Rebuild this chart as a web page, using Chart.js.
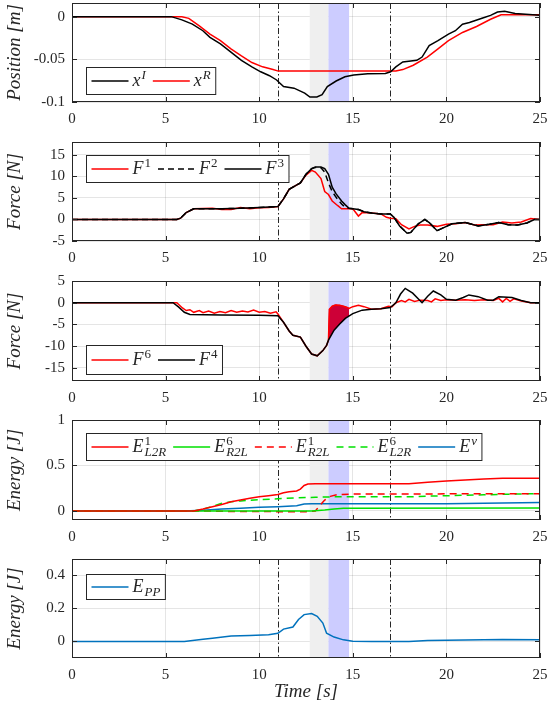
<!DOCTYPE html>
<html>
<head>
<meta charset="utf-8">
<script src="https://cdn.jsdelivr.net/npm/chart.js@4.4.1/dist/chart.umd.min.js"></script>
<style>
  body { margin: 0; background: #fff; width: 548px; height: 711px; position: relative; overflow: hidden; }
  canvas { position: absolute; left: 0; }
</style>
</head>
<body>
<canvas id="c1" width="548" height="139" style="top:0px"></canvas>
<canvas id="c2" width="548" height="149" style="top:129px"></canvas>
<canvas id="c3" width="548" height="149" style="top:268px"></canvas>
<canvas id="c4" width="548" height="149" style="top:407px"></canvas>
<canvas id="c5" width="548" height="165" style="top:546px"></canvas>
<script>
// time axis and event markers (seconds)
const xTicks = [0, 5, 10, 15, 20, 25];
const events = [11, 17];
const grayBand = [12.7, 13.7];
const blueBand = [13.7, 14.8];

// panel 1: position [m]
const xI = [[0,0],[5.3,0],[5.87,-0.0038],[6.43,-0.0088],[6.99,-0.0165],[7.37,-0.0242],[7.93,-0.0319],[8.49,-0.0415],[9.05,-0.0512],[9.61,-0.0588],[10.08,-0.0646],[10.55,-0.0692],[10.93,-0.0742],[11.11,-0.078],[11.3,-0.0819],[11.86,-0.0838],[12.43,-0.0896],[12.71,-0.0942],[13.08,-0.0942],[13.36,-0.0915],[13.64,-0.0819],[14.11,-0.0754],[14.58,-0.0704],[15.05,-0.0685],[15.8,-0.067],[16.74,-0.0665],[17.02,-0.0646],[17.3,-0.0588],[17.67,-0.0531],[18.42,-0.0512],[18.7,-0.0473],[19.08,-0.0338],[19.55,-0.0281],[20.11,-0.0204],[20.48,-0.0165],[20.86,-0.0088],[21.23,-0.0069],[21.98,-0.0012],[22.36,0.0015],[22.73,0.0054],[23.11,0.0062],[23.67,0.0038],[24.23,0.0027],[25,0.0015]];
const xR = [[0,0],[5.87,0],[6.24,-0.002],[6.8,-0.0108],[7.37,-0.0204],[7.93,-0.028],[8.49,-0.0377],[9.05,-0.046],[9.61,-0.0538],[10.18,-0.0588],[10.74,-0.062],[11.02,-0.0638],[17.3,-0.0638],[17.67,-0.062],[18.23,-0.0569],[18.98,-0.0473],[19.55,-0.0377],[20.11,-0.028],[20.86,-0.0185],[21.61,-0.0115],[22.36,-0.0031],[22.92,0.0023],[25,0.0023]];

// panel 2: force [N]
const F1 = [[0,0],[5.6,0],[5.8,0.3],[6.1,1.6],[6.5,2.5],[7.5,2.6],[8,2.3],[8.5,2.3],[9,2.8],[9.5,2.5],[10,2.7],[10.5,2.8],[11,3.0],[11.3,4.8],[11.6,7],[11.8,7.5],[12.2,8.5],[12.5,10.3],[12.8,11.4],[13,11],[13.3,9.5],[13.5,6.5],[13.7,5.8],[13.9,4.3],[14.2,3.2],[14.4,2.5],[14.8,2.5],[15,2.5],[15.3,0.8],[15.5,1.6],[16,1.5],[16.5,1.3],[16.8,0.5],[17,0.3],[17.3,0.2],[17.6,-1.2],[18,-2.2],[18.3,-1.6],[18.6,-1.3],[19,-1.3],[19.5,-1.6],[20,-1.1],[20.5,-1.0],[21,-0.7],[21.5,-1.3],[22,-1.2],[22.5,-1.2],[23,-0.6],[23.5,-0.8],[24,-0.6],[24.5,0.2],[25,0]];
const F2 = [[0,0],[5.6,0],[5.8,0.3],[6.1,1.6],[6.5,2.5],[8,2.5],[9,2.6],[10,2.8],[11,3.0],[11.3,4.8],[11.6,7],[11.8,7.5],[12.2,8.5],[12.5,10.5],[12.8,11.8],[13,12.1],[13.3,12],[13.5,11],[13.7,8.5],[13.9,6.5],[14.1,5.2],[14.4,3.6],[14.6,2.8],[14.8,2.6],[15,2.5],[15.3,2.3],[15.6,1.8],[16,1.5],[16.5,1.3],[17,1.3],[17.2,0.5],[17.5,-1.5],[17.9,-3.2],[18.1,-3],[18.5,-1],[18.85,0],[19.1,-0.8],[19.5,-2.6],[19.8,-2],[20.3,-1],[21,-0.7],[21.7,-1.5],[22.3,-1.1],[22.8,-0.7],[23.3,-1.2],[23.8,-1.3],[24.3,-0.8],[24.7,0],[25,0]];
const F3 = [[0,0],[5.6,0],[5.8,0.3],[6.1,1.6],[6.5,2.5],[8,2.5],[9,2.6],[10,2.8],[11,3.0],[11.3,4.8],[11.6,7],[11.8,7.5],[12.2,8.5],[12.5,10.5],[12.8,11.8],[13,12.2],[13.3,12.2],[13.5,11.8],[13.7,10.5],[13.9,7.5],[14.1,6],[14.4,4.3],[14.6,3.4],[14.8,2.6],[15,2.5],[15.3,2.3],[15.6,1.8],[16,1.5],[16.5,1.3],[17,1.3],[17.2,0.5],[17.5,-1.5],[17.9,-3.2],[18.1,-3],[18.5,-1],[18.85,0],[19.1,-0.8],[19.5,-2.6],[19.8,-2],[20.3,-1],[21,-0.7],[21.7,-1.5],[22.3,-1.1],[22.8,-0.7],[23.3,-1.2],[23.8,-1.3],[24.3,-0.8],[24.7,0],[25,0]];

// panel 3: force [N]
const F6 = [[0,0],[5.6,0],[5.9,-1.2],[6.1,-1.8],[6.3,-1.6],[6.5,-2.2],[6.8,-1.8],[7,-2.3],[7.3,-1.9],[7.6,-2.4],[7.9,-2.0],[8.2,-2.3],[8.5,-1.8],[8.8,-2.2],[9.1,-1.9],[9.4,-2.1],[9.7,-1.7],[10,-2.2],[10.3,-2.0],[10.6,-2.4],[10.9,-2.1],[11,-2.6],[11.3,-4.5],[11.6,-6.5],[11.8,-7.5],[12.2,-7.9],[12.5,-10],[12.8,-11.8],[13.1,-12.2],[13.4,-11],[13.6,-9.8],[13.7,-8.6],[13.75,-1.5],[13.9,-0.8],[14.0,-0.6],[14.1,-0.5],[14.3,-0.6],[14.5,-0.8],[14.7,-1.1],[14.8,-1.3],[15,-0.9],[15.3,-0.6],[15.6,-0.9],[16,-1.5],[16.5,-1.4],[16.9,-0.8],[17.1,-0.9],[17.3,0],[17.6,0.5],[17.8,0.2],[18,0.8],[18.3,0.3],[18.6,0.6],[19,0.5],[19.2,0.2],[19.4,0.9],[19.7,0.5],[20,0.7],[20.5,0.6],[21,0.7],[21.5,0.5],[22,0.7],[22.5,0.5],[22.8,1.0],[23,0.2],[23.2,1.0],[23.4,0.3],[23.6,0.9],[24,0.4],[24.5,0],[25,0]];
const F4 = [[0,0],[5.4,0],[5.7,-1],[6,-2.2],[6.3,-2.7],[8,-2.8],[10,-2.9],[11,-3.0],[11.3,-4.5],[11.6,-6.5],[11.8,-7.5],[12.2,-7.9],[12.5,-10],[12.8,-11.8],[13.1,-12.2],[13.4,-11],[13.6,-9.8],[13.7,-8.6],[14,-6.3],[14.3,-4.9],[14.6,-3.6],[15,-2.5],[15.5,-1.7],[16,-1.5],[16.5,-1.4],[17,-1.1],[17.3,0],[17.55,2],[17.8,3.3],[18.2,2.2],[18.7,0],[19,1.5],[19.3,2.7],[19.7,1.8],[20,0.8],[20.5,0.6],[20.9,1.2],[21.2,1.8],[21.7,1.4],[22.2,0.6],[22.5,0.6],[22.8,1.4],[23.5,1.2],[24,0.5],[24.5,0],[25,0]];
// chattering envelope of F6 inside the blue window
const bandT = [13.7, 13.75, 13.9, 14.0, 14.1, 14.2, 14.3, 14.4, 14.5, 14.6, 14.7, 14.8];
const bandTop = [-8.6, -1.5, -0.8, -0.6, -0.5, -0.6, -0.6, -0.7, -0.8, -0.9, -1.1, -1.3];
const bandLow = [-8.6, -8.2, -7.1, -6.3, -5.8, -5.4, -4.9, -4.5, -4.0, -3.6, -3.3, -3.0];

// panel 4: energy [J]
const EL2R1 = [[0,0],[6.5,0],[7,0.02],[7.5,0.045],[8,0.07],[8.5,0.1],[9,0.12],[9.5,0.14],[10,0.155],[10.5,0.168],[11,0.18],[11.3,0.2],[11.6,0.21],[12,0.22],[12.2,0.24],[12.4,0.28],[12.6,0.295],[13,0.298],[17,0.298],[18,0.3],[19,0.315],[20,0.33],[21,0.34],[22,0.35],[23,0.358],[25,0.36]];
const ER2L6 = [[0,0],[12.8,0],[13.5,0.01],[14,0.02],[14.5,0.028],[15,0.03],[25,0.032]];
const ER2L1 = [[0,0],[7,0],[8,-0.005],[11,-0.008],[12.5,-0.008],[13,0.0],[13.2,0.05],[13.5,0.12],[13.8,0.16],[14.2,0.18],[15,0.185],[25,0.19]];
const EL2R6 = [[0,0],[6.5,0],[7,0.02],[7.5,0.05],[8,0.085],[8.5,0.1],[9,0.11],[10,0.125],[11,0.133],[12,0.145],[13,0.15],[14,0.155],[18,0.155],[19,0.162],[20,0.167],[22,0.177],[24,0.187],[25,0.19]];
const Enu = [[0,0],[6,0],[7,0.008],[8,0.02],[9,0.03],[10,0.04],[11,0.047],[12,0.058],[12.4,0.075],[12.8,0.078],[17,0.078],[20,0.08],[22,0.085],[25,0.093]];

// panel 5: energy [J]
const EPP = [[0,0],[6,0],[7,0.014],[7.5,0.02],[8.5,0.033],[9.5,0.037],[10.5,0.041],[11,0.05],[11.3,0.075],[11.8,0.088],[12.1,0.133],[12.4,0.163],[12.8,0.169],[13.1,0.153],[13.4,0.112],[13.6,0.05],[14,0.027],[14.5,0.01],[15,0.002],[16,0],[18,0],[19,0.006],[20,0.008],[22,0.01],[23,0.012],[25,0.01]];

const yTicks1 = [-0.1, -0.05, 0];
const yTicks2 = [-5, 0, 5, 10, 15];
const yTicks3 = [-15, -10, -5, 0, 5];
const yTicks4 = [0, 0.5, 1];
const yTicks5 = [0, 0.2, 0.4];

const RED = 'rgb(255,0,0)';
const GREEN = 'rgb(0,225,0)';
const BLUE = 'rgb(0,114,189)';
const INK = '#262626';
const SERIF = '"Liberation Serif", "DejaVu Serif", serif';

const pts = arr => arr.map(p => ({ x: p[0], y: p[1] }));
const zip = (ts, vs) => ts.map((t, i) => ({ x: t, y: vs[i] }));

// draws a latex-ish label like E^1_L2R, returns width
function drawLabel(ctx, text, x, y, measureOnly) {
    const m = text.match(/^([^\^_]+)(?:\^([^_]+))?(?:_(.+))?$/);
    const base = m[1], sup = m[2], sub = m[3];
    const fnt = s => (/^\d+$/.test(s) ? '' : 'italic ');
    ctx.font = 'italic 18px ' + SERIF;
    const bw = ctx.measureText(base).width;
    if (!measureOnly) ctx.fillText(base, x, y);
    let w = 0;
    if (sup) {
        ctx.font = fnt(sup) + '13px ' + SERIF;
        w = Math.max(w, ctx.measureText(sup).width);
        if (!measureOnly) ctx.fillText(sup, x + bw + 1, y - 7);
    }
    if (sub) {
        ctx.font = 'italic 13px ' + SERIF;
        w = Math.max(w, ctx.measureText(sub).width);
        if (!measureOnly) ctx.fillText(sub, x + bw + 1, y + 4);
    }
    return bw + (w ? w + 1 : 0);
}

const matlabLook = {
    id: 'matlabLook',
    beforeDatasetsDraw(chart) {
        const { ctx, chartArea: a, scales: { x } } = chart;
        ctx.save();
        ctx.beginPath();
        ctx.rect(a.left, a.top, a.width, a.height);
        ctx.clip();
        const g0 = x.getPixelForValue(grayBand[0]), g1 = x.getPixelForValue(grayBand[1]);
        ctx.fillStyle = '#efefef';
        ctx.fillRect(g0, a.top, g1 - g0, a.height);
        const b0 = x.getPixelForValue(blueBand[0]), b1 = x.getPixelForValue(blueBand[1]);
        ctx.fillStyle = 'rgb(204,204,255)';
        ctx.fillRect(b0, a.top, b1 - b0, a.height);
        ctx.strokeStyle = INK;
        ctx.lineWidth = 1;
        ctx.setLineDash([6, 2.5, 1.5, 2.5]);
        events.forEach(t => {
            const px = Math.round(x.getPixelForValue(t)) + 0.5;
            ctx.beginPath();
            ctx.moveTo(px, a.top);
            ctx.lineTo(px, a.bottom);
            ctx.stroke();
        });
        ctx.restore();
    },
    afterDraw(chart, args, opts) {
        const { ctx, chartArea: a, scales: { x, y } } = chart;
        ctx.save();
        // box with inward ticks
        ctx.strokeStyle = INK;
        ctx.lineWidth = 1;
        ctx.strokeRect(a.left + 0.5, a.top + 0.5, a.width - 1, a.height - 1);
        ctx.beginPath();
        x.ticks.forEach(t => {
            const px = Math.round(x.getPixelForValue(t.value)) + 0.5;
            ctx.moveTo(px, a.bottom); ctx.lineTo(px, a.bottom - 5);
            ctx.moveTo(px, a.top); ctx.lineTo(px, a.top + 5);
        });
        y.ticks.forEach(t => {
            const py = Math.round(y.getPixelForValue(t.value)) + 0.5;
            ctx.moveTo(a.left, py); ctx.lineTo(a.left + 5, py);
            ctx.moveTo(a.right, py); ctx.lineTo(a.right - 5, py);
        });
        ctx.stroke();

        // legend box
        const items = chart.data.datasets.filter(d => !d.hideLegend);
        const lineLen = 37, gap = 4, sep = 7, pad = 5, h = opts.h || 27;
        let w = pad;
        items.forEach((d, i) => {
            w += lineLen + gap + drawLabel(ctx, d.label, 0, 0, true) + (i < items.length - 1 ? sep : 5);
        });
        const bx = Math.round(a.left + opts.dx) + 0.5, by = Math.round(a.top + opts.dy) + 0.5;
        ctx.fillStyle = '#fff';
        ctx.fillRect(bx, by, w, h);
        ctx.strokeStyle = INK;
        ctx.strokeRect(bx, by, w, h);
        let cx = bx + pad;
        const cy = by + h / 2;
        ctx.textBaseline = 'alphabetic';
        items.forEach(d => {
            ctx.strokeStyle = d.borderColor;
            ctx.lineWidth = 1.5;
            ctx.setLineDash(d.borderDash || []);
            ctx.beginPath();
            ctx.moveTo(cx, cy);
            ctx.lineTo(cx + lineLen, cy);
            ctx.stroke();
            ctx.setLineDash([]);
            cx += lineLen + gap;
            ctx.fillStyle = INK;
            cx += drawLabel(ctx, d.label, cx, cy + 5, false) + sep;
        });
        ctx.restore();
    }
};

function makeChart(id, series, yMin, yMax, yTicks, yTitle, padTop, xHeight, legendPos, xTitle) {
    const ctx = document.getElementById(id).getContext('2d');
    return new Chart(ctx, {
        type: 'line',
        data: {
            datasets: series.map(s => ({
                label: s.label,
                data: s.data,
                borderColor: s.color,
                borderWidth: s.width || 1.5,
                borderDash: s.dash || [],
                backgroundColor: s.bg || 'transparent',
                fill: s.fill || false,
                pointRadius: 0,
                tension: 0,
                hideLegend: s.hideLegend || false,
                order: s.order || 0
            }))
        },
        options: {
            responsive: false,
            animation: false,
            events: [],
            layout: { padding: { top: padTop, right: 8, left: 0, bottom: 0 } },
            plugins: {
                legend: { display: false },
                tooltip: { enabled: false },
                matlabLook: legendPos
            },
            scales: {
                x: {
                    type: 'linear',
                    min: 0,
                    max: 25,
                    afterBuildTicks: s => { s.ticks = xTicks.map(v => ({ value: v })); },
                    afterFit: s => { s.height = xHeight; s.paddingLeft = 0; s.paddingRight = 0; },
                    grid: { color: 'rgba(0,0,0,0.1)', drawTicks: false },
                    border: { display: false },
                    ticks: { padding: 8, color: INK, maxRotation: 0, font: { family: SERIF, size: 15 }, callback: v => String(v) },
                    title: xTitle ? { display: true, text: xTitle, color: INK, padding: { top: 0, bottom: 8 }, font: { family: SERIF, size: 19, style: 'italic' } } : { display: false }
                },
                y: {
                    min: yMin,
                    max: yMax,
                    afterBuildTicks: s => { s.ticks = yTicks.map(v => ({ value: v })); },
                    afterFit: s => { s.width = 72; s.paddingTop = 0; s.paddingBottom = 0; },
                    grid: { color: 'rgba(0,0,0,0.1)', drawTicks: false },
                    border: { display: false },
                    ticks: { padding: 7, color: INK, font: { family: SERIF, size: 15 }, callback: v => String(v) },
                    title: { display: true, text: yTitle, color: INK, padding: { top: 4, bottom: 4 }, font: { family: SERIF, size: 19, style: 'italic' } }
                }
            }
        },
        plugins: [matlabLook]
    });
}

makeChart('c1', [
    { label: 'x^I', data: pts(xI), color: '#000' },
    { label: 'x^R', data: pts(xR), color: RED }
], -0.1, 0.016, yTicks1, 'Position [m]', 3, 37, { dx: 14, dy: 64 });

makeChart('c2', [
    { label: 'F^1', data: pts(F1), color: RED, order: 2 },
    { label: 'F^2', data: pts(F2), color: '#000', dash: [6, 4], order: 1 },
    { label: 'F^3', data: pts(F3), color: '#000', order: 0 }
], -5, 18, yTicks2, 'Force [N]', 13, 37, { dx: 14, dy: 13 });

makeChart('c3', [
    { label: 'F^6', data: pts(F6), color: RED, order: 1 },
    { label: 'F^4', data: pts(F4), color: '#000', order: 0 },
    { label: 'low', data: zip(bandT, bandLow), color: 'rgba(0,0,0,0)', width: 0, hideLegend: true, order: 2 },
    { label: 'top', data: zip(bandT, bandTop), color: 'rgb(205,0,55)', width: 1, bg: 'rgb(205,0,55)', fill: '-1', hideLegend: true, order: 1 }
], -18, 5, yTicks3, 'Force [N]', 13, 36, { dx: 14, dy: 64, h: 29 });

makeChart('c4', [
    { label: 'E^1_L2R', data: pts(EL2R1), color: RED },
    { label: 'E^6_R2L', data: pts(ER2L6), color: GREEN },
    { label: 'E^1_R2L', data: pts(ER2L1), color: RED, dash: [7, 5] },
    { label: 'E^6_L2R', data: pts(EL2R6), color: GREEN, dash: [7, 5] },
    { label: 'E^\u03bd', data: pts(Enu), color: BLUE }
], -0.1, 1, yTicks4, 'Energy [J]', 13, 36, { dx: 14, dy: 13 });

makeChart('c5', [
    { label: 'E_PP', data: pts(EPP), color: BLUE }
], -0.1, 0.5, yTicks5, 'Energy [J]', 13, 53, { dx: 14, dy: 15, h: 25 }, 'Time [s]');
</script>
</body>
</html>
